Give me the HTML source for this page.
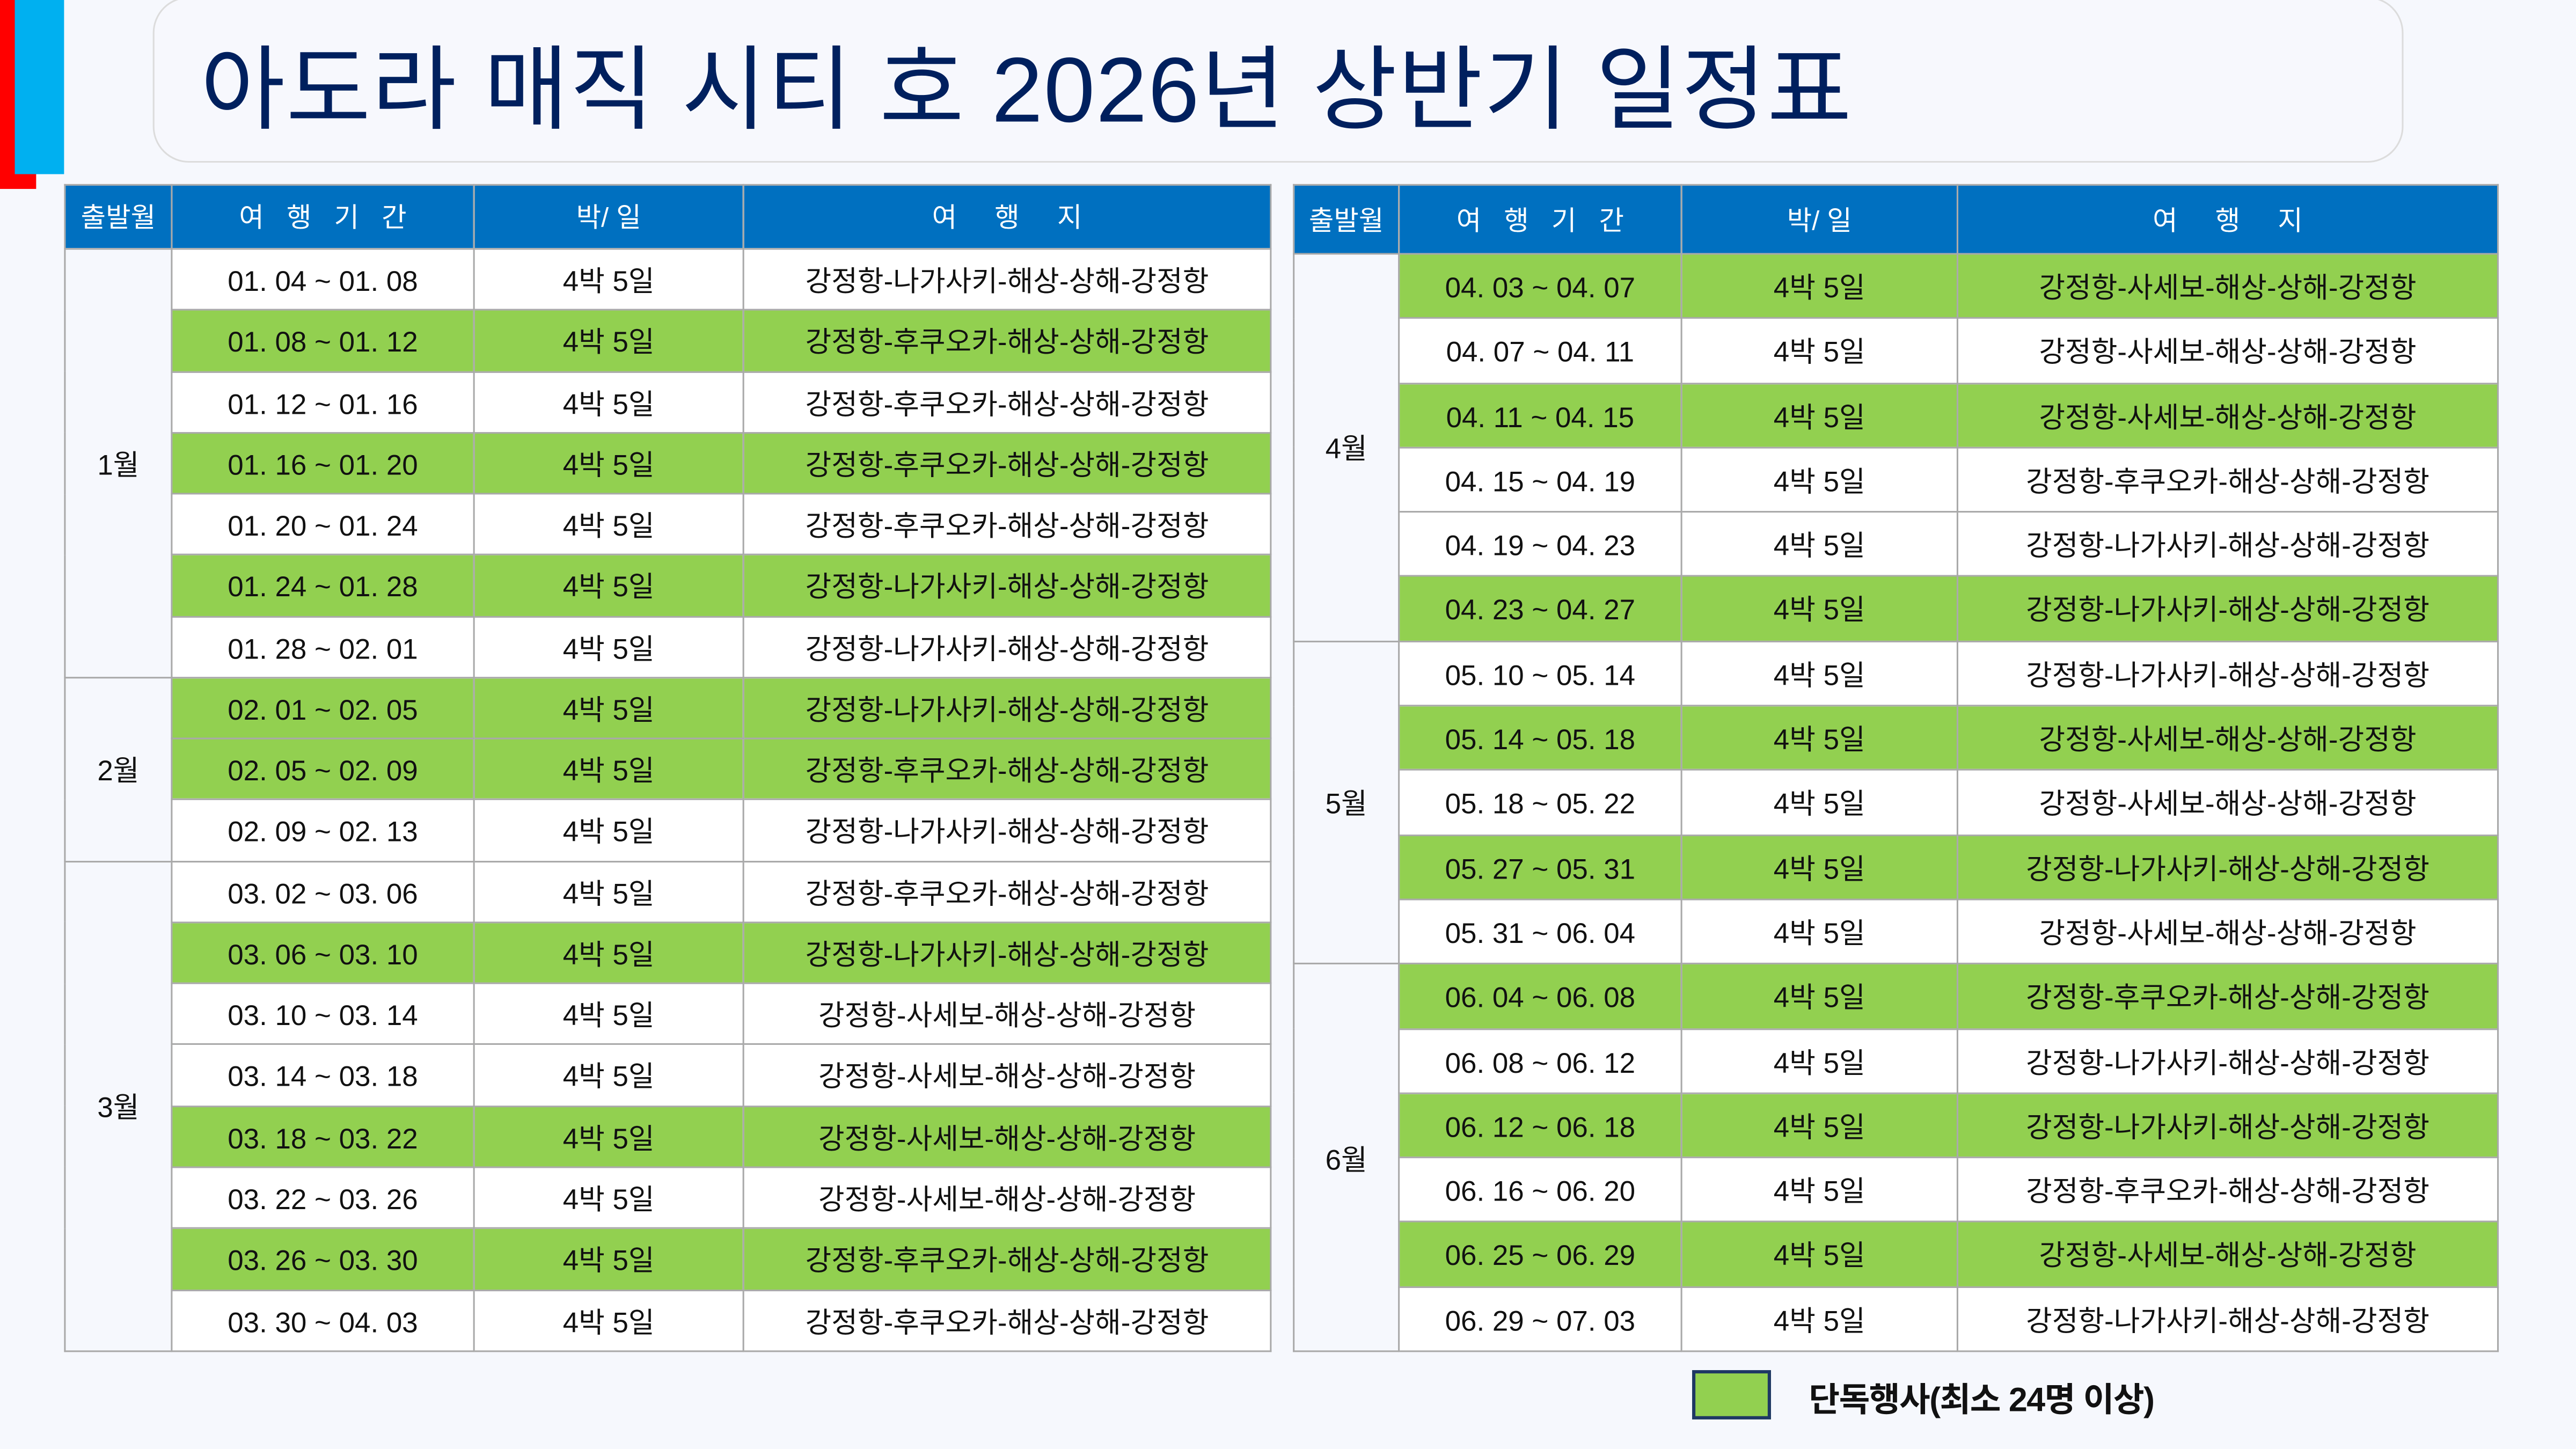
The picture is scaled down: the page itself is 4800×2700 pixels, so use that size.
<!DOCTYPE html>
<html><head><meta charset="utf-8"><style>
html,body{margin:0;padding:0;width:4800px;height:2700px;overflow:hidden;background:#f6f8fd}
#s{position:absolute;left:0;top:0;width:1568px;height:882px;transform:scale(3.0612);transform-origin:0 0;font-family:"Liberation Sans","Noto Sans CJK KR",sans-serif;background:#f6f8fd;overflow:hidden}
.red{position:absolute;left:0;top:0;width:22px;height:115px;background:#ff0000}
.blue{position:absolute;left:9px;top:0;width:30px;height:106px;background:#00b0f0}
.tbox{position:absolute;left:93px;top:-2px;width:1370px;height:101px;border:1.5px solid #dcdcdc;border-radius:22px;background:#f7f8fd;box-sizing:border-box}
.title{position:absolute;left:122px;top:21px;font-size:56px;color:#00205e;white-space:nowrap;letter-spacing:0.6px;line-height:1.2}
table{position:absolute;border-collapse:collapse;table-layout:fixed;font-size:17.3px;color:#111}
td,th{border:1.5px solid #a9a9a9;text-align:center;padding:3px 0 0 0;white-space:nowrap;overflow:hidden;line-height:1;box-sizing:border-box}
th{background:#0070c0;color:#fff;font-weight:normal;font-size:16.5px}
td{background:#fff}
td.m{background:#f6f8fd !important}
tr.g td{background:#92d050}
table.L tr{height:37.28px}
table.R tr{height:39.3px}
.leg{position:absolute;left:1030px;top:834px;width:48px;height:30px;box-sizing:border-box;border:2px solid #1f3864;background:#92d050}
.legt{position:absolute;left:1101px;top:835px;font-size:20.5px;font-weight:bold;color:#111;white-space:nowrap;letter-spacing:-0.5px}
</style></head><body><div id="s">
<div class="red"></div><div class="blue"></div>
<div class="tbox"></div>
<div class="title">아도라 매직 시티 호 2026년 상반기 일정표</div>

<table class="L" style="left:39px;top:112px;width:734px">
<colgroup><col style="width:65px"><col style="width:184px"><col style="width:164px"><col style="width:321px"></colgroup>
<tr style="height:39px"><th>출발월</th><th>여&nbsp;&nbsp; 행&nbsp;&nbsp; 기&nbsp;&nbsp; 간</th><th>박/ 일</th><th>여&nbsp;&nbsp;&nbsp;&nbsp; 행&nbsp;&nbsp;&nbsp;&nbsp; 지</th></tr>
<tr><td class="m" rowspan="7">1월</td><td>01. 04 ~ 01. 08</td><td>4박 5일</td><td>강정항-나가사키-해상-상해-강정항</td></tr>
<tr class="g"><td>01. 08 ~ 01. 12</td><td>4박 5일</td><td>강정항-후쿠오카-해상-상해-강정항</td></tr>
<tr><td>01. 12 ~ 01. 16</td><td>4박 5일</td><td>강정항-후쿠오카-해상-상해-강정항</td></tr>
<tr class="g"><td>01. 16 ~ 01. 20</td><td>4박 5일</td><td>강정항-후쿠오카-해상-상해-강정항</td></tr>
<tr><td>01. 20 ~ 01. 24</td><td>4박 5일</td><td>강정항-후쿠오카-해상-상해-강정항</td></tr>
<tr class="g"><td>01. 24 ~ 01. 28</td><td>4박 5일</td><td>강정항-나가사키-해상-상해-강정항</td></tr>
<tr><td>01. 28 ~ 02. 01</td><td>4박 5일</td><td>강정항-나가사키-해상-상해-강정항</td></tr>
<tr class="g"><td class="m" rowspan="3">2월</td><td>02. 01 ~ 02. 05</td><td>4박 5일</td><td>강정항-나가사키-해상-상해-강정항</td></tr>
<tr class="g"><td>02. 05 ~ 02. 09</td><td>4박 5일</td><td>강정항-후쿠오카-해상-상해-강정항</td></tr>
<tr><td>02. 09 ~ 02. 13</td><td>4박 5일</td><td>강정항-나가사키-해상-상해-강정항</td></tr>
<tr><td class="m" rowspan="8">3월</td><td>03. 02 ~ 03. 06</td><td>4박 5일</td><td>강정항-후쿠오카-해상-상해-강정항</td></tr>
<tr class="g"><td>03. 06 ~ 03. 10</td><td>4박 5일</td><td>강정항-나가사키-해상-상해-강정항</td></tr>
<tr><td>03. 10 ~ 03. 14</td><td>4박 5일</td><td>강정항-사세보-해상-상해-강정항</td></tr>
<tr><td>03. 14 ~ 03. 18</td><td>4박 5일</td><td>강정항-사세보-해상-상해-강정항</td></tr>
<tr class="g"><td>03. 18 ~ 03. 22</td><td>4박 5일</td><td>강정항-사세보-해상-상해-강정항</td></tr>
<tr><td>03. 22 ~ 03. 26</td><td>4박 5일</td><td>강정항-사세보-해상-상해-강정항</td></tr>
<tr class="g"><td>03. 26 ~ 03. 30</td><td>4박 5일</td><td>강정항-후쿠오카-해상-상해-강정항</td></tr>
<tr><td>03. 30 ~ 04. 03</td><td>4박 5일</td><td>강정항-후쿠오카-해상-상해-강정항</td></tr>
</table>

<table class="R" style="left:787px;top:112px;width:733px">
<colgroup><col style="width:64px"><col style="width:172px"><col style="width:168px"><col style="width:329px"></colgroup>
<tr style="height:42px"><th>출발월</th><th>여&nbsp;&nbsp; 행&nbsp;&nbsp; 기&nbsp;&nbsp; 간</th><th>박/ 일</th><th>여&nbsp;&nbsp;&nbsp;&nbsp; 행&nbsp;&nbsp;&nbsp;&nbsp; 지</th></tr>
<tr class="g"><td class="m" rowspan="6">4월</td><td>04. 03 ~ 04. 07</td><td>4박 5일</td><td>강정항-사세보-해상-상해-강정항</td></tr>
<tr><td>04. 07 ~ 04. 11</td><td>4박 5일</td><td>강정항-사세보-해상-상해-강정항</td></tr>
<tr class="g"><td>04. 11 ~ 04. 15</td><td>4박 5일</td><td>강정항-사세보-해상-상해-강정항</td></tr>
<tr><td>04. 15 ~ 04. 19</td><td>4박 5일</td><td>강정항-후쿠오카-해상-상해-강정항</td></tr>
<tr><td>04. 19 ~ 04. 23</td><td>4박 5일</td><td>강정항-나가사키-해상-상해-강정항</td></tr>
<tr class="g"><td>04. 23 ~ 04. 27</td><td>4박 5일</td><td>강정항-나가사키-해상-상해-강정항</td></tr>
<tr><td class="m" rowspan="5">5월</td><td>05. 10 ~ 05. 14</td><td>4박 5일</td><td>강정항-나가사키-해상-상해-강정항</td></tr>
<tr class="g"><td>05. 14 ~ 05. 18</td><td>4박 5일</td><td>강정항-사세보-해상-상해-강정항</td></tr>
<tr><td>05. 18 ~ 05. 22</td><td>4박 5일</td><td>강정항-사세보-해상-상해-강정항</td></tr>
<tr class="g"><td>05. 27 ~ 05. 31</td><td>4박 5일</td><td>강정항-나가사키-해상-상해-강정항</td></tr>
<tr><td>05. 31 ~ 06. 04</td><td>4박 5일</td><td>강정항-사세보-해상-상해-강정항</td></tr>
<tr class="g"><td class="m" rowspan="6">6월</td><td>06. 04 ~ 06. 08</td><td>4박 5일</td><td>강정항-후쿠오카-해상-상해-강정항</td></tr>
<tr><td>06. 08 ~ 06. 12</td><td>4박 5일</td><td>강정항-나가사키-해상-상해-강정항</td></tr>
<tr class="g"><td>06. 12 ~ 06. 18</td><td>4박 5일</td><td>강정항-나가사키-해상-상해-강정항</td></tr>
<tr><td>06. 16 ~ 06. 20</td><td>4박 5일</td><td>강정항-후쿠오카-해상-상해-강정항</td></tr>
<tr class="g"><td>06. 25 ~ 06. 29</td><td>4박 5일</td><td>강정항-사세보-해상-상해-강정항</td></tr>
<tr><td>06. 29 ~ 07. 03</td><td>4박 5일</td><td>강정항-나가사키-해상-상해-강정항</td></tr>
</table>

<div class="leg"></div>
<div class="legt">단독행사(최소 24명 이상)</div>
</div></body></html>
